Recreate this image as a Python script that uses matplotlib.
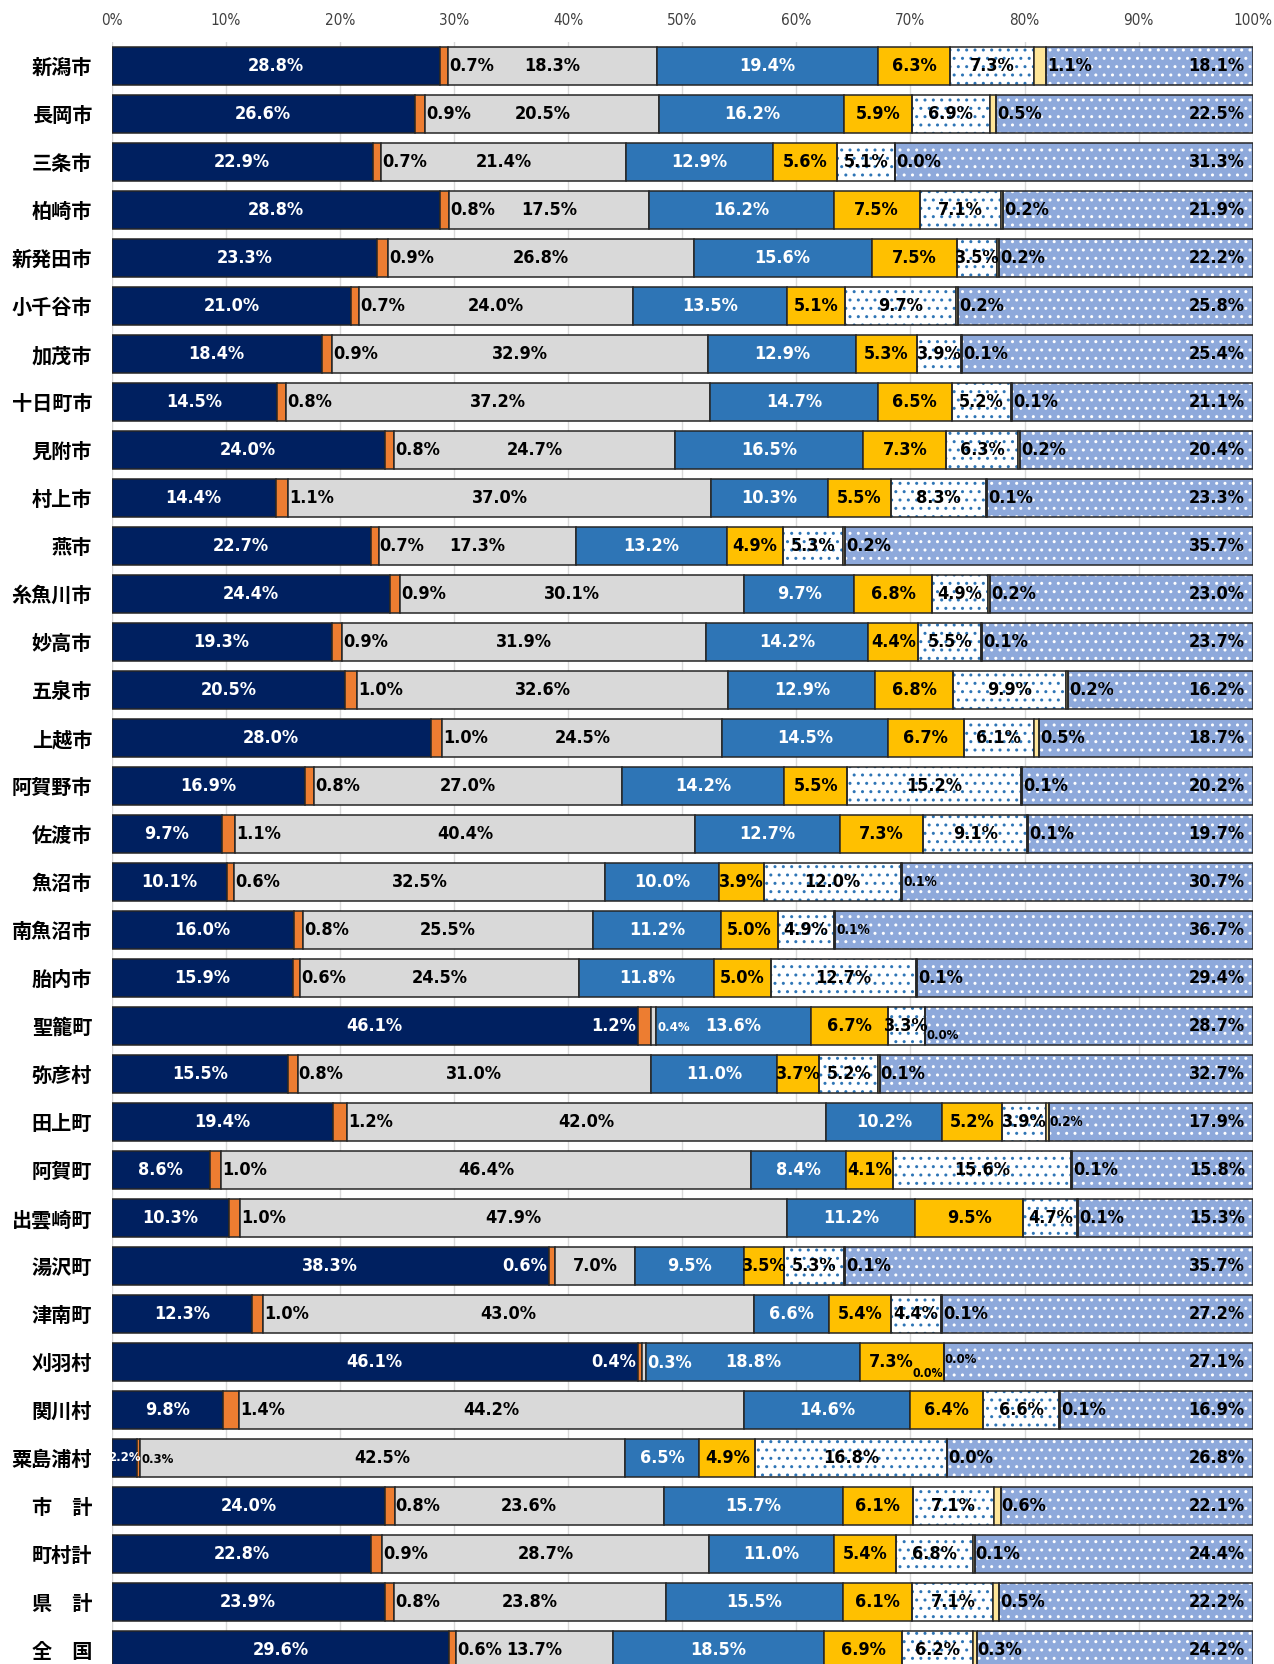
import matplotlib
matplotlib.use('Agg')
import matplotlib.pyplot as plt
from matplotlib import font_manager as fm

categories = ["新潟市", "長岡市", "三条市", "柏崎市", "新発田市", "小千谷市", "加茂市", "十日町市",
              "見附市", "村上市", "燕市", "糸魚川市", "妙高市", "五泉市", "上越市", "阿賀野市",
              "佐渡市", "魚沼市", "南魚沼市", "胎内市", "聖籠町", "弥彦村", "田上町", "阿賀町",
              "出雲崎町", "湯沢町", "津南町", "刈羽村", "関川村", "粟島浦村", "市　計", "町村計",
              "県　計", "全　国"]

s1 = [28.8, 26.6, 22.9, 28.8, 23.3, 21.0, 18.4, 14.5, 24.0, 14.4, 22.7, 24.4, 19.3, 20.5, 28.0, 16.9,
      9.7, 10.1, 16.0, 15.9, 46.1, 15.5, 19.4, 8.6, 10.3, 38.3, 12.3, 46.1, 9.8, 2.2, 24.0, 22.8, 23.9, 29.6]
s2 = [0.7, 0.9, 0.7, 0.8, 0.9, 0.7, 0.9, 0.8, 0.8, 1.1, 0.7, 0.9, 0.9, 1.0, 1.0, 0.8,
      1.1, 0.6, 0.8, 0.6, 1.2, 0.8, 1.2, 1.0, 1.0, 0.6, 1.0, 0.4, 1.4, 0.3, 0.8, 0.9, 0.8, 0.6]
s3 = [18.3, 20.5, 21.4, 17.5, 26.8, 24.0, 32.9, 37.2, 24.7, 37.0, 17.3, 30.1, 31.9, 32.6, 24.5, 27.0,
      40.4, 32.5, 25.5, 24.5, 0.4, 31.0, 42.0, 46.4, 47.9, 7.0, 43.0, 0.3, 44.2, 42.5, 23.6, 28.7, 23.8, 13.7]
s4 = [19.4, 16.2, 12.9, 16.2, 15.6, 13.5, 12.9, 14.7, 16.5, 10.3, 13.2, 9.7, 14.2, 12.9, 14.5, 14.2,
      12.7, 10.0, 11.2, 11.8, 13.6, 11.0, 10.2, 8.4, 11.2, 9.5, 6.6, 18.8, 14.6, 6.5, 15.7, 11.0, 15.5, 18.5]
s5 = [6.3, 5.9, 5.6, 7.5, 7.5, 5.1, 5.3, 6.5, 7.3, 5.5, 4.9, 6.8, 4.4, 6.8, 6.7, 5.5,
      7.3, 3.9, 5.0, 5.0, 6.7, 3.7, 5.2, 4.1, 9.5, 3.5, 5.4, 7.3, 6.4, 4.9, 6.1, 5.4, 6.1, 6.9]
s6 = [7.3, 6.9, 5.1, 7.1, 3.5, 9.7, 3.9, 5.2, 6.3, 8.3, 5.3, 4.9, 5.5, 9.9, 6.1, 15.2,
      9.1, 12.0, 4.9, 12.7, 3.3, 5.2, 3.9, 15.6, 4.7, 5.3, 4.4, 0.0, 6.6, 16.8, 7.1, 6.8, 7.1, 6.2]
s7 = [1.1, 0.5, 0.0, 0.2, 0.2, 0.2, 0.1, 0.1, 0.2, 0.1, 0.2, 0.2, 0.1, 0.2, 0.5, 0.1,
      0.1, 0.1, 0.1, 0.1, 0.0, 0.1, 0.2, 0.1, 0.1, 0.1, 0.1, 0.0, 0.1, 0.0, 0.6, 0.1, 0.5, 0.3]
s8 = [18.1, 22.5, 31.3, 21.9, 22.2, 25.8, 25.4, 21.1, 20.4, 23.3, 35.7, 23.0, 23.7, 16.2, 18.7, 20.2,
      19.7, 30.7, 36.7, 29.4, 28.7, 32.7, 17.9, 15.8, 15.3, 35.7, 27.2, 27.1, 16.9, 26.8, 22.1, 24.4, 22.2, 24.2]
series = [s1, s2, s3, s4, s5, s6, s7, s8]

tick_values = [0, 10, 20, 30, 40, 50, 60, 70, 80, 90, 100]
tick_labels = ["0%", "10%", "20%", "30%", "40%", "50%", "60%", "70%", "80%", "90%", "100%"]

# styles
faces = ["#002060", "#ED7D31", "#D9D9D9", "#2E75B6", "#FFC000", "#FFFFFF", "#FFE699", "#8EA9DB"]
hatches = [None, None, None, None, None, "..", None, ".."]
hatch_cols = [None, None, None, None, None, "#2E75B6", None, "#FFFFFF"]
txt_cols = ["white", "black", "black", "white", "black", "black", "black", "black"]
modes = ["center", "after", "center", "center", "center", "center", "after", "right"]

# label placement exceptions: (row, segment) -> (mode, color, size scale, dy, dx)
overrides = {
    (20, 1): ("before", "white", 1.0, 0.0, 0.0),
    (20, 2): ("after", "white", 0.72, 0.03, 0.0),
    (20, 6): ("after", "black", 0.72, 0.2, 0.0),
    (25, 1): ("before", "white", 1.0, 0.0, 0.0),
    (27, 1): ("before", "white", 1.0, 0.0, 0.0),
    (27, 2): ("after", "white", 1.0, 0.03, 0.0),
    (27, 4): ("center", "black", 1.0, 0.0, -0.9),
    (27, 5): ("before", "black", 0.68, 0.24, 0.1),
    (27, 6): ("after", "black", 0.72, -0.05, 0.0),
    (29, 0): ("center", "white", 0.72, 0.0, 0.0),
    (29, 1): ("after", "black", 0.72, 0.03, 0.0),
    (17, 6): ("after", "black", 0.75, 0.0, 0.0),
    (18, 6): ("after", "black", 0.75, 0.0, 0.0),
    (22, 6): ("after", "black", 0.75, 0.0, 0.0),
}

# number font: prefer a narrow face
num_font = "Liberation Sans"
num_stretch = "normal"
try:
    p = fm.findfont(fm.FontProperties(family="Liberation Sans Narrow", weight="bold"), fallback_to_default=False)
    if "Narrow" in p:
        num_font = "Liberation Sans Narrow"
except Exception:
    pass
if num_font == "Liberation Sans":
    try:
        p = fm.findfont(fm.FontProperties(family="DejaVu Sans", stretch="condensed", weight="bold"), fallback_to_default=False)
        if "Condensed" in p:
            num_font = "DejaVu Sans"
            num_stretch = "condensed"
    except Exception:
        pass
cjk_font = "Noto Sans CJK JP"

W, H = 1274, 1664
fig = plt.figure(figsize=(W / 100, H / 100), dpi=100)
ax = fig.add_axes([111.5 / W, 0.0, 1141.3 / W, 1 - 41.8 / H])

n = len(categories)
ypos = list(range(n))
totals = [sum(s[i] for s in series) for i in range(n)]
bh = 0.79
edge = "#262626"
base_fs = 13.0

left = [0.0] * n
for k, vals in enumerate(series):
    widths = [v / t * 100 for v, t in zip(vals, totals)]
    if hatches[k]:
        ax.barh(ypos, widths, left=left, height=bh, color=faces[k], hatch=hatches[k],
                edgecolor=hatch_cols[k], linewidth=0, zorder=2)
        ax.barh(ypos, widths, left=left, height=bh, fill=False, edgecolor=edge,
                linewidth=1.1, zorder=3)
    else:
        ax.barh(ypos, widths, left=left, height=bh, color=faces[k], edgecolor=edge,
                linewidth=1.1, zorder=3)
    for i, v in enumerate(vals):
        x0 = left[i]
        x1 = x0 + widths[i]
        mode, col, sc, dy, dx = modes[k], txt_cols[k], 1.0, 0.0, 0.0
        if (i, k) in overrides:
            mode, col, sc, dy, dx = overrides[(i, k)]
        kw = dict(va="center", color=col, fontsize=base_fs * sc, fontfamily=num_font,
                  fontstretch=num_stretch, fontweight="bold", zorder=5)
        txt = f"{v:.1f}%"
        if mode == "center":
            ax.text((x0 + x1) / 2 + dx, i + dy, txt, ha="center", **kw)
        elif mode == "after":
            ax.text(x1 + 0.1 + dx, i + dy, txt, ha="left", **kw)
        elif mode == "before":
            ax.text(x0 - 0.1 + dx, i + dy, txt, ha="right", **kw)
        elif mode == "right":
            ax.text(99.3 + dx, i + dy, txt, ha="right", **kw)
    left = [a + b for a, b in zip(left, widths)]

ax.set_xlim(0, 100)
ax.set_ylim(n - 0.7, -0.5)
ax.xaxis.tick_top()
ax.set_xticks(tick_values)
ax.set_xticklabels(tick_labels, fontfamily=num_font, fontstretch=num_stretch, fontsize=11, color="#404040")
ax.tick_params(axis="x", length=0, pad=10)
ax.set_yticks(ypos)
ax.set_yticklabels(categories, fontfamily=cjk_font, fontweight="bold", fontsize=14.5)
ax.tick_params(axis="y", length=0, pad=14)
ax.grid(axis="x", color="#D9D9D9", linewidth=1.0, zorder=0)
ax.set_axisbelow(True)
for s in ax.spines.values():
    s.set_visible(False)

fig.savefig("out.png", dpi=100)
